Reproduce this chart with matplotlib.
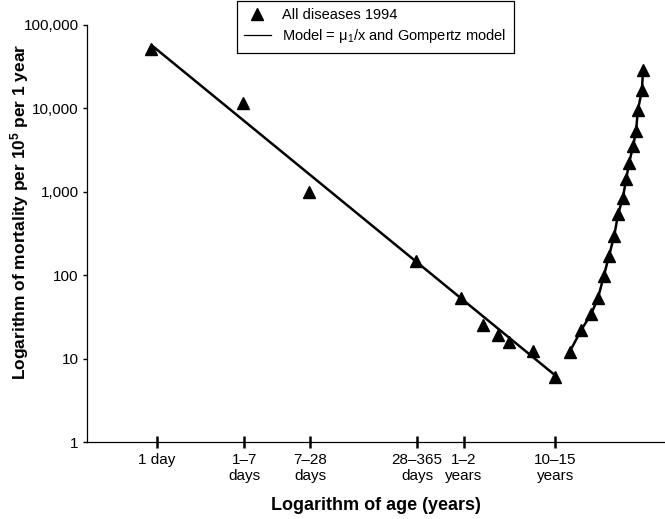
import matplotlib
matplotlib.use('Agg')
import matplotlib.pyplot as plt
from matplotlib.ticker import FixedLocator, NullLocator, FuncFormatter

plt.rcParams['font.family'] = ['Liberation Sans', 'DejaVu Sans']
plt.rcParams['mathtext.fontset'] = 'custom'
plt.rcParams['mathtext.rm'] = 'Liberation Sans'
plt.rcParams['mathtext.it'] = 'Liberation Sans:italic'
plt.rcParams['mathtext.bf'] = 'Liberation Sans:bold'

# x is a position along the (schematic) logarithmic age axis, 0..100
age_tick_pos = [12.1, 27.2, 38.6, 57.1, 65.2, 81.0]
age_tick_labels = ['1 day', '1\u20137\ndays', '7\u201328\ndays',
                   '28\u2013365\ndays', '1\u20132\nyears', '10\u201315\nyears']

# observed mortality, all diseases 1994 (per 10^5 per 1 year)
young_age = [11.1, 27.0, 38.4, 56.9, 64.7, 68.5, 71.1, 73.0, 77.2, 81.0]
young_mort = [51000, 11500, 1000, 148, 53, 25, 19, 16, 12.5, 6.0]

old_age = [83.6, 85.5, 87.2, 88.4, 89.4, 90.3, 91.2, 91.9, 92.7, 93.3,
           93.8, 94.5, 95.0, 95.3, 96.0, 96.2]
old_mort = [12, 22, 34, 53, 97, 169, 295, 543, 847, 1435,
            2240, 3580, 5430, 9460, 16500, 28700]

# model: mu1/x part (straight line on log-log) and Gompertz part
model_young_age = [11.2, 81.0]
model_young_mort = [57000, 6.3]
model_old_age = [83.2] + old_age[1:] + [96.3]
model_old_mort = [11.0] + old_mort[1:] + [30500]

fig = plt.figure(figsize=(6.65, 5.19), dpi=100)
ax = fig.add_axes([87 / 665, 1 - 442 / 519, 1 - 87 / 665, (442 - 25) / 519])

ax.plot(model_young_age, model_young_mort, color='black', lw=1.8, zorder=2)
ax.plot(model_old_age, model_old_mort, color='black', lw=1.8, zorder=2)
ax.plot(young_age + old_age, young_mort + old_mort, linestyle='none',
        marker='^', color='black', markersize=9, zorder=3)

ax.set_yscale('log')
ax.set_ylim(1, 100000)
ax.set_xlim(0, 100)

ax.yaxis.set_major_locator(FixedLocator([1, 10, 100, 1000, 10000, 100000]))
ax.yaxis.set_minor_locator(NullLocator())
ax.yaxis.set_major_formatter(FuncFormatter(lambda v, p: f'{v:,.0f}'))
ax.tick_params(axis='y', direction='out', length=3, width=1, pad=3,
               labelsize=11, colors='black')

ax.set_xticks(age_tick_pos)
ax.set_xticklabels(age_tick_labels, linespacing=1.15)
ax.tick_params(axis='x', direction='inout', length=8, width=1.8, pad=4,
               labelsize=11)

for s in ['top', 'right']:
    ax.spines[s].set_visible(False)
ax.spines['left'].set_linewidth(0.9)
ax.spines['bottom'].set_linewidth(0.9)

ax.set_xlabel('Logarithm of age (years)', fontsize=13, fontweight='bold',
              labelpad=10)
fig.text(20 / 665, 1 - 212 / 519,
         'Logarithm of mortality per 10$^{\\mathbf{5}}$ per 1 year',
         rotation=90, fontsize=12.5, fontweight='bold',
         ha='center', va='center')

h_pts = plt.Line2D([], [], linestyle='none', marker='^', color='black',
                   markersize=9)
h_line = plt.Line2D([], [], color='black', lw=0.9)
leg = fig.legend([h_pts, h_line],
                 ['All diseases 1994', 'Model = \u03bc$_1$/x and Gompertz model'],
                 loc='upper left', bbox_to_anchor=(237 / 665, 1 - 1 / 519),
                 fontsize=10.5, frameon=True, fancybox=False,
                 edgecolor='black', framealpha=1, borderaxespad=0,
                 handlelength=1.8, handletextpad=0.8, borderpad=0.5,
                 labelspacing=0.35)
leg.get_frame().set_linewidth(0.9)

fig.savefig('out.png', dpi=100)
